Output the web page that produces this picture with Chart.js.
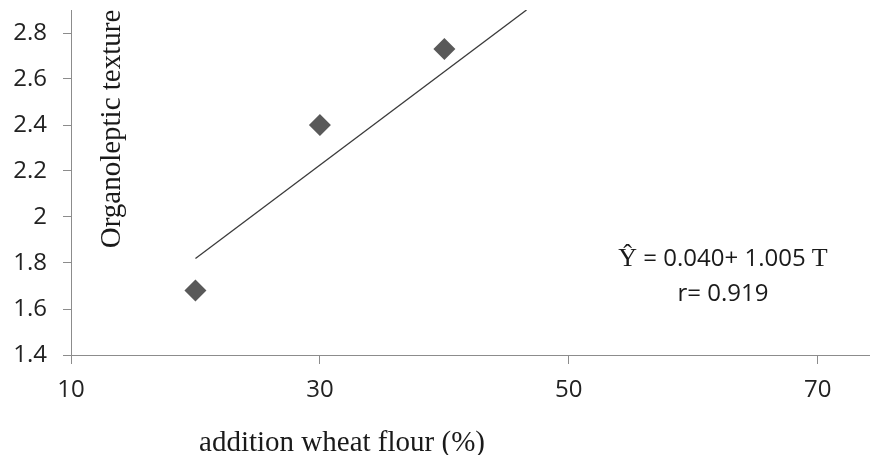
<!DOCTYPE html>
<html>
<head>
<meta charset="utf-8">
<script src="https://cdn.jsdelivr.net/npm/chart.js@4.4.1/dist/chart.umd.min.js"></script>
<style>
  html, body { margin: 0; padding: 0; background: #fff; overflow: hidden; }
  canvas { display: block; }
</style>
</head>
<body>
<canvas id="myChart" width="870" height="455"></canvas>
<script>
(() => {
  'use strict'

  // observed points
  const flourPct = [20, 30, 40]
  const texture = [1.68, 2.40, 2.73]

  // fitted line, as drawn (end points)
  const fitX = [20, 46.6]
  const fitY = [1.82, 2.9]

  const xTicks = [10, 30, 50, 70]
  const yTicks = [1.4, 1.6, 1.8, 2, 2.2, 2.4, 2.6, 2.8]

  const xTitle = 'addition wheat flour (%)'
  const yTitle = 'Organoleptic texture'
  const eqParts = [['Ŷ', 'serif'], [' = 0.040+ 1.005 ', 'sans'], ['T', 'serif']]
  const rText = 'r= 0.919'

  const SANS = '"Open Sans", sans-serif'
  const SERIF = '"Liberation Serif", "Times New Roman", serif'

  // drop the label half-size padding chart.js adds, so the plot fills the box
  const noPad = s => { s.paddingTop = 0; s.paddingBottom = 0; s.paddingLeft = 0; s.paddingRight = 0 }

  // free text: titles and equation
  const notes = {
    id: 'notes',
    afterDraw(chart) {
      const c = chart.ctx
      const a = chart.chartArea
      c.save()
      c.fillStyle = '#1a1a1a'

      // y title sits inside the plot, rotated
      c.save()
      c.translate(a.left + 41, 129)
      c.rotate(-Math.PI / 2)
      c.font = '29px ' + SERIF
      c.textAlign = 'center'
      c.textBaseline = 'middle'
      c.fillText(yTitle, 0, 0)
      c.restore()

      // x title
      c.font = '29px ' + SERIF
      c.textAlign = 'center'
      c.textBaseline = 'alphabetic'
      c.fillText(xTitle, 342, 451)

      // equation, mixed fonts
      const fonts = { serif: '26px ' + SERIF, sans: '24px ' + SANS }
      let total = 0
      eqParts.forEach(([t, f]) => { c.font = fonts[f]; total += c.measureText(t).width })
      let x = 723 - total / 2
      c.textAlign = 'left'
      eqParts.forEach(([t, f]) => {
        c.font = fonts[f]
        c.fillText(t, x, 266)
        x += c.measureText(t).width
      })

      c.font = '24px ' + SANS
      c.textAlign = 'center'
      c.fillText(rText, 723, 301)
      c.restore()
    }
  }

  const ctx = document.getElementById('myChart')
  // eslint-disable-next-line no-unused-vars
  const myChart = new Chart(ctx, {
    type: 'scatter',
    data: {
      datasets: [{
        data: flourPct.map((v, i) => ({ x: v, y: texture[i] })),
        pointStyle: 'rectRot',
        pointRadius: 11,
        pointHoverRadius: 11,
        backgroundColor: '#595959',
        borderColor: '#595959',
        borderWidth: 0
      }, {
        type: 'line',
        data: fitX.map((v, i) => ({ x: v, y: fitY[i] })),
        borderColor: '#3a3a3a',
        borderWidth: 1.3,
        pointRadius: 0,
        fill: false
      }]
    },
    plugins: [notes],
    options: {
      responsive: false,
      animation: false,
      layout: { autoPadding: false, padding: { top: 10, right: 0, left: 0, bottom: 0 } },
      scales: {
        x: {
          type: 'linear',
          min: 10,
          max: 74.2,
          afterBuildTicks: s => { s.ticks = xTicks.map(v => ({ value: v })) },
          afterFit: s => { s.height = 100; noPad(s) },
          border: { color: '#8c8c8c', width: 1 },
          grid: { drawOnChartArea: false, drawTicks: true, tickLength: 9, color: '#8c8c8c' },
          ticks: { font: { family: SANS, size: 24 }, color: '#222', padding: 12, maxRotation: 0 }
        },
        y: {
          min: 1.4,
          max: 2.9,
          afterBuildTicks: s => { s.ticks = yTicks.map(v => ({ value: v })) },
          afterFit: s => { s.width = 71; noPad(s) },
          border: { color: '#8c8c8c', width: 1 },
          grid: { drawOnChartArea: false, drawTicks: true, tickLength: 8, color: '#8c8c8c' },
          ticks: {
            font: { family: SANS, size: 24 },
            color: '#222',
            padding: 16,
            callback: v => String(Math.round(v * 10) / 10)
          }
        }
      },
      plugins: {
        legend: { display: false },
        tooltip: { enabled: false }
      }
    }
  })
})()
</script>
</body>
</html>
